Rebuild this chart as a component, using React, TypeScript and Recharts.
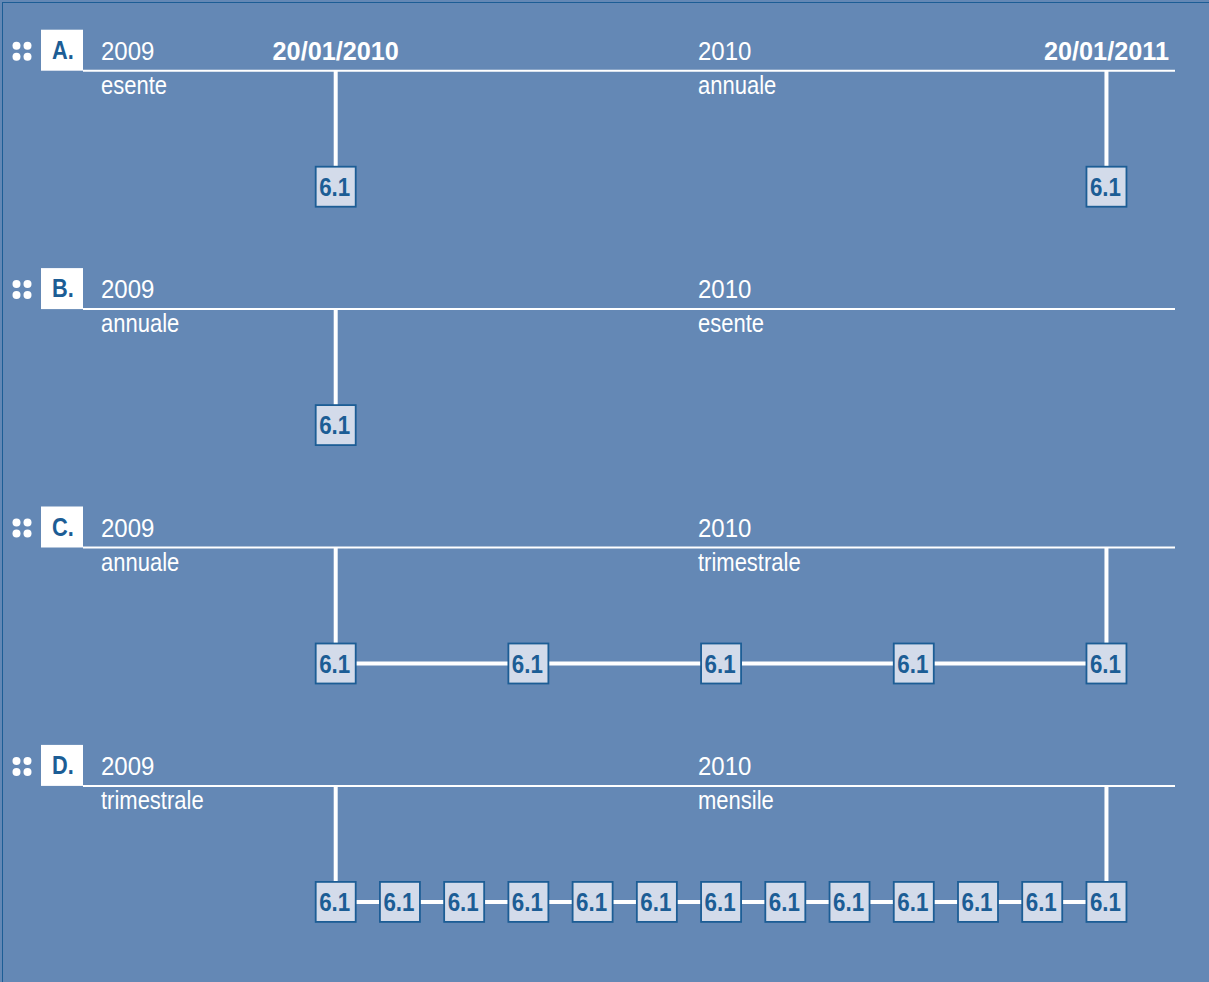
import React from "react";
import { ScatterChart, Scatter, XAxis, YAxis } from "recharts";

// rows of the diagram
const rowLetters = ["A.", "B.", "C.", "D."];
const rowIndex = [0, 1, 2, 3];
const yearBefore = ["2009", "2009", "2009", "2009"];
const yearAfter = ["2010", "2010", "2010", "2010"];
const regimeBefore = ["esente", "annuale", "annuale", "trimestrale"];
const regimeAfter = ["annuale", "esente", "trimestrale", "mensile"];

// months after 20/01/2010 at which a form is due
const deadlineMonths = [
  [0, 12],
  [0],
  [0, 3, 6, 9, 12],
  [0, 1, 2, 3, 4, 5, 6, 7, 8, 9, 10, 11, 12],
];
const connectedRows = [false, false, true, true];
const dateLabels = ["20/01/2010", "20/01/2011"];
const dateLabelMonths = [0, 12];
const formCode = "6.1";

// layout
const W = 1209;
const H = 982;
const X0 = 335.7;
const MONTH_PX = 64.23;
const Y0 = 186.7;
const ROW_PX = 238.4;
const DROP = 116;
const BG = "#6488b5";
const DARK = "#1c5d95";
const BOX_FILL = "#d3dbea";
const FONT = '"Liberation Sans", Arial, sans-serif';

const headerData = rowIndex.map((r) => ({ m: 0, row: r }));
const dateData = dateLabels.map((label, i) => ({ m: dateLabelMonths[i], row: 0, label }));

// narrow text: the original uses a condensed face, so squeeze horizontally
function T(props: any) {
  const { x, y, sx = 0.88, anchor = "start", bold = false, fill = "#fff", size = 25, children } = props;
  return (
    <text
      transform={`translate(${x} ${y}) scale(${sx} 1)`}
      textAnchor={anchor}
      fontFamily={FONT}
      fontWeight={bold ? "bold" : "normal"}
      fontSize={size}
      fill={fill}
    >
      {children}
    </text>
  );
}

function HeaderShape(props: any) {
  const { cy, payload } = props;
  const r = payload.row;
  const ly = cy - DROP;
  return (
    <g>
      <circle cx={16.5} cy={ly - 25} r={4} fill="#fff" />
      <circle cx={27.5} cy={ly - 25} r={4} fill="#fff" />
      <circle cx={16.5} cy={ly - 14} r={4} fill="#fff" />
      <circle cx={27.5} cy={ly - 14} r={4} fill="#fff" />
      <rect x={41} y={ly - 41} width={42} height={41} fill="#fff" />
      <T x={63} y={ly - 12} anchor="middle" bold sx={0.87} fill={DARK}>
        {rowLetters[r]}
      </T>
      <line x1={83} x2={1175} y1={ly} y2={ly} stroke="#fff" strokeWidth={2} />
      <T x={101} y={ly - 11} sx={0.96}>{yearBefore[r]}</T>
      <T x={698} y={ly - 11} sx={0.96}>{yearAfter[r]}</T>
      <T x={101} y={ly + 23}>{regimeBefore[r]}</T>
      <T x={698} y={ly + 23}>{regimeAfter[r]}</T>
    </g>
  );
}

function DateShape(props: any) {
  const { cx, cy, payload } = props;
  return (
    <T x={cx} y={cy - DROP - 11} anchor="middle" bold sx={1.01}>
      {payload.label}
    </T>
  );
}

function BoxShape(props: any) {
  const { cx, cy, payload } = props;
  const anniversary = payload.m % 12 === 0;
  return (
    <g>
      {anniversary && <line x1={cx} x2={cx} y1={cy - DROP} y2={cy - 20} stroke="#fff" strokeWidth={4} />}
      <rect x={cx - 20} y={cy - 20} width={40} height={40} fill={BOX_FILL} stroke={DARK} strokeWidth={1.8} />
      <T x={cx - 1} y={cy + 9} anchor="middle" bold sx={0.86} size={26} fill={DARK}>
        {formCode}
      </T>
    </g>
  );
}

export default function App() {
  const xDomain = [-X0 / MONTH_PX, (W - X0) / MONTH_PX];
  const yDomain = [-Y0 / ROW_PX, (H - Y0) / ROW_PX];
  return (
    <div style={{ position: "absolute", left: 0, top: 0, width: W, height: H, background: BG, overflow: "hidden" }}>
      <div
        style={{
          position: "absolute",
          left: 2,
          top: 2,
          width: W + 10,
          height: H + 10,
          borderLeft: `1.5px solid ${DARK}`,
          borderTop: `1.5px solid ${DARK}`,
        }}
      />
      <ScatterChart width={W} height={H} margin={{ top: 0, right: 0, bottom: 0, left: 0 }}>
        <XAxis type="number" dataKey="m" domain={xDomain} allowDataOverflow hide />
        <YAxis type="number" dataKey="row" domain={yDomain} allowDataOverflow reversed hide />
        <Scatter data={headerData} shape={HeaderShape} isAnimationActive={false} />
        <Scatter data={dateData} shape={DateShape} isAnimationActive={false} />
        {rowIndex.map((r) => (
          <Scatter
            key={r}
            data={deadlineMonths[r].map((m) => ({ m, row: r }))}
            shape={BoxShape}
            line={connectedRows[r] ? { stroke: "#fff", strokeWidth: 4 } : false}
            isAnimationActive={false}
          />
        ))}
      </ScatterChart>
    </div>
  );
}
